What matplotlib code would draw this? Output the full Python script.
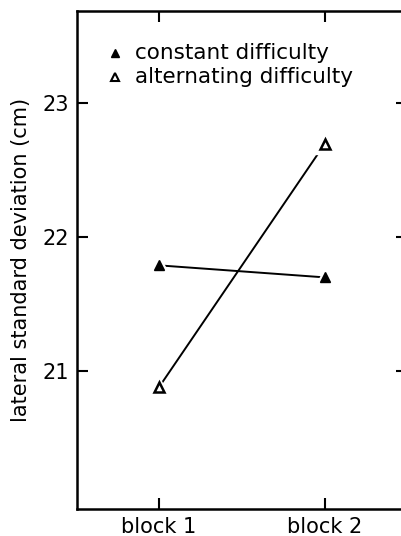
import matplotlib
matplotlib.use('Agg')
import matplotlib.pyplot as plt

plt.rcParams['font.family'] = ['DejaVu Sans']

blocks = [1, 2]
block_labels = ['block 1', 'block 2']
constant = [21.79, 21.70]
alternating = [20.88, 22.70]

fig = plt.figure(figsize=(4.02, 5.36), dpi=100)
ax = fig.add_axes([77/402, 1 - 509/536, 330/402, 498/536])

# lines first, then a white halo under each marker to leave the gap
ax.plot(blocks, constant, color='k', lw=1.4, zorder=1)
ax.plot(blocks, alternating, color='k', lw=1.4, zorder=1)
ax.plot(blocks, constant, ls='none', marker='^', ms=15, color='white', zorder=2)
ax.plot(blocks, alternating, ls='none', marker='^', ms=15, color='white', zorder=2)
ax.plot(blocks, constant, ls='none', marker='^', ms=7.5, color='k', zorder=3)
ax.plot(blocks, alternating, ls='none', marker='^', ms=7, mfc='white', mec='k', mew=1.8, zorder=3)

ax.set_xlim(0.506, 2.494)
ax.set_ylim(19.97, 23.69)
ax.set_xticks(blocks)
ax.set_xticklabels(block_labels)
ax.set_yticks([21, 22, 23])
ax.tick_params(direction='in', length=8, width=1.5, labelsize=15, top=True, right=True, pad=6)
for s in ax.spines.values():
    s.set_linewidth(1.8)
ax.set_ylabel('lateral standard deviation (cm)', fontsize=15, labelpad=8)

# legend drawn as text with markers
ax.plot([0.735], [23.38], marker='^', ms=6, color='k', ls='none')
ax.plot([0.735], [23.195], marker='^', ms=5.5, mfc='white', mec='k', mew=1.5, ls='none')
ax.text(0.855, 23.38, 'constant difficulty', fontsize=15.5, va='center')
ax.text(0.855, 23.195, 'alternating difficulty', fontsize=15.5, va='center')

fig.savefig('out.png', dpi=100)
